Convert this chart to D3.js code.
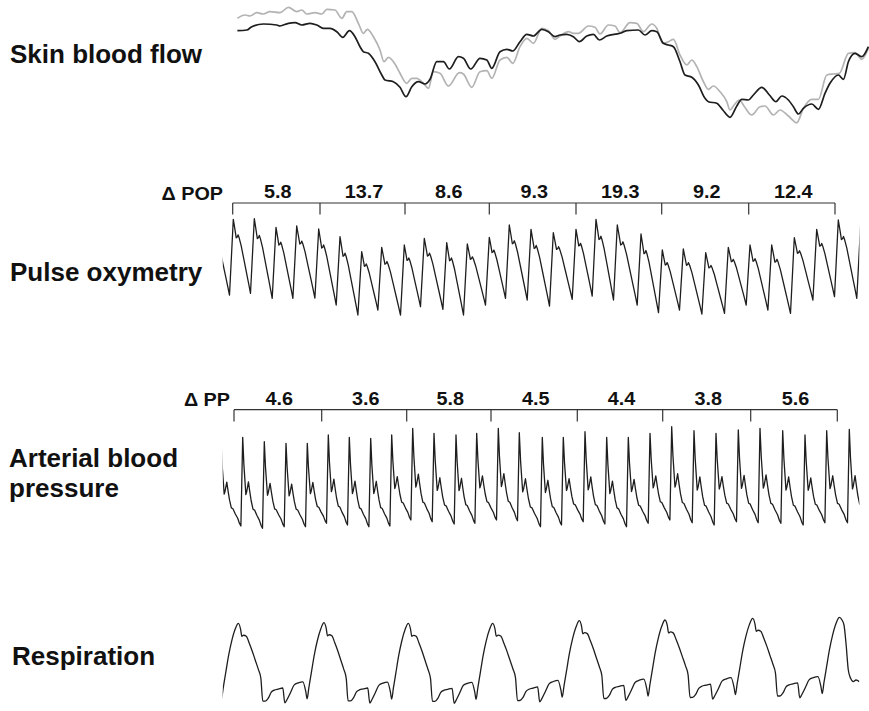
<!DOCTYPE html>
<html>
<head>
<meta charset="utf-8">
<script src="https://cdn.jsdelivr.net/npm/d3@7"></script>
<style>
body { margin: 0; background: #fff; }
svg { display: block; }
</style>
</head>
<body>
<svg width="869" height="711"></svg>
<script>
// time in s, values in arbitrary units

var skinBlack = [[0.77,99.3],[1.24,100],[1.49,103.3],[2.07,106],[2.74,105],[2.9,104],[3.32,106.7],[3.65,107.3],[3.99,105],[4.4,106.7],[4.74,105],[5.07,101.7],[5.4,101.7],[5.74,98.3],[6.04,92.7],[6.37,99.3],[6.65,93.3],[6.9,83.3],[7.07,78.3],[7.32,76.7],[7.65,68.3],[7.99,55],[8.15,50],[8.57,48.3],[8.9,42.7],[9.2,33.3],[9.49,43.3],[9.82,48.3],[10.15,46],[10.4,50.7],[10.74,68.3],[11.07,68.3],[11.37,61],[11.82,73.3],[12.07,71.7],[12.44,61],[12.9,71.7],[13.24,70],[13.49,61.7],[13.9,78.3],[14.24,80.7],[14.54,79],[14.9,88.3],[15.24,95.7],[15.57,94],[15.99,100.7],[16.32,98.3],[16.65,93.3],[16.9,95],[17.24,95.7],[17.57,93.3],[17.87,88.3],[18.24,94],[18.57,95.7],[18.87,90],[19.24,94],[19.9,96.7],[20.24,99.3],[20.82,100],[21.15,95],[21.49,99.3],[21.74,98.3],[22.07,86.7],[22.32,85],[22.57,83.3],[22.9,68.3],[23.15,55],[23.49,52.7],[23.82,45],[24.15,31.7],[24.32,28.3],[24.74,26.7],[25.04,20],[25.4,12.7],[25.74,24],[25.99,30.7],[26.32,30],[26.57,35],[26.99,42.7],[27.37,35],[27.7,28.3],[27.99,34],[28.32,30],[28.57,23.3],[28.82,16],[29.07,21.7],[29.49,26],[29.82,20.7],[30.15,36.7],[30.4,46.7],[30.82,55],[31.07,50.7],[31.32,68.3],[31.65,76.7],[31.99,73.3],[32.32,83.3]];

var skinGray = [[0.77,111.7],[1.15,115],[1.4,114],[1.74,117.3],[2.07,116],[2.4,118.3],[2.9,117.3],[3.32,122.7],[3.74,118.3],[3.99,120],[4.24,116],[4.65,117.3],[4.99,116],[5.24,120.7],[5.65,120],[5.99,111.7],[6.24,118.3],[6.49,118.3],[6.82,106.7],[7.07,96.7],[7.27,100.7],[7.57,93.3],[7.9,80],[8.1,68.3],[8.32,72.7],[8.65,66],[8.9,56.7],[9.24,46.7],[9.49,51.7],[9.74,51.7],[10.07,46.7],[10.32,41.7],[10.57,58.3],[10.9,56.7],[11.32,44],[11.87,57.3],[12.07,56],[12.49,42.7],[12.9,58.3],[13.24,59.3],[13.49,51.7],[13.9,70],[14.24,72.7],[14.54,66.7],[14.9,83.3],[15.24,91.7],[15.57,86.7],[15.99,101.7],[16.32,99.3],[16.65,90.7],[16.9,94],[17.32,98.3],[17.57,96.7],[17.82,96.7],[18.32,104],[18.65,102.7],[18.9,96],[19.32,105],[19.65,104],[19.9,97.3],[20.4,107.3],[20.74,106.7],[21.07,98.3],[21.49,106],[21.74,101.7],[22.04,86.7],[22.32,88.3],[22.57,90.7],[22.9,75],[23.24,65],[23.49,70],[23.74,63.3],[24.07,48.3],[24.32,40.7],[24.57,44],[24.9,38.3],[25.24,28.3],[25.4,20],[25.57,24],[25.87,30],[26.1,24],[26.49,15],[26.9,23.3],[27.15,24],[27.57,15],[27.9,20],[28.32,14],[28.74,7.3],[29.07,21.7],[29.49,30.7],[29.82,30.7],[30.24,55],[30.57,56],[30.87,56.7],[31.32,76.7],[31.65,77.3],[31.99,70.7],[32.32,81.7]];

// pulse oximetry: systolic peaks and the foot before each peak
var pulsePeakT = [-0.5,0.565,1.615,2.7,3.735,4.835,5.9,6.985,7.985,9.115,10.115,11.235,12.265,13.365,14.365,15.45,16.565,17.7,18.7,19.765,20.95,22.015,23.065,24.185,25.315,26.4,27.485,28.615,29.735,30.815,31.93];
var pulsePeakV = [95,100.7,101.3,92.7,94,91,83.3,68.3,72.7,75,81.7,77.3,76,82.7,95,90.7,87.3,90.7,100.7,95,86,70,71,67.3,72.7,75,75,82.3,90.7,100,95];
var pulseFootV = [25,25,26.7,21.7,21.7,22,15,5,10,5,13.3,10.7,5,15,21.7,20,14,20.7,24,20,15,7.3,10,6,6.7,15,10,6.7,20,23.3,21.7];
// one beat from peak to next foot: [fraction of time, fraction of drop]
var pulseShape = [[0.09,0.13],[0.17,0.25],[0.23,0.24],[0.28,0.21],[0.34,0.25],[0.46,0.36],[0.63,0.56],[0.8,0.76],[0.91,0.89]];
var pulseRise = 0.19;

// arterial pressure
var abpPeakT = [-0.05,1.035,2.115,3.2,4.265,5.315,6.365,7.435,8.485,9.535,10.6,11.7,12.735,13.815,14.865,16.015,17.065,18.15,19.235,20.315,21.4,22.485,23.6,24.7,25.815,26.9,28.035,29.15,30.235,31.365,32.45];
var abpPeakV = [90,92.7,88.3,86.7,86.7,95,92.7,91.7,95,101.7,96.7,95,96.7,101.7,97.3,92.7,92.7,98.3,92.7,92.7,96.7,103.3,99.3,96.7,100,101.7,99.3,95,99.3,100.7,95];
var abpFootV = [4,4,1.7,3.3,3.3,6.7,5,3.3,4,10,8.3,6,6.7,10,9.3,3.3,5,8.3,6,3.3,6.7,10,7.3,5,8.3,7.3,6.7,5,7.3,7.3,6];
var abpShape = [[0.06,0.3],[0.16,0.63],[0.2,0.6],[0.29,0.49],[0.36,0.6],[0.43,0.7],[0.52,0.79],[0.6,0.8],[0.72,0.86],[0.84,0.91],[0.93,0.97]];
var abpRise = 0.09;

// respiration: inspiratory peaks, cycle shape [fraction of cycle, drop below peak]
var respPeakT = [-3.47,0.815,5.1,9.315,13.535,17.865,22.15,26.535,30.865];
var respPeakV = [86.7,86.7,87.3,86.7,86.7,89.3,90,91.7,92.7];
var respShape = [[0,0],[0.027,6],[0.041,13],[0.062,12],[0.093,13],[0.128,20],[0.163,28],[0.198,37],[0.233,46],[0.263,55],[0.286,78],[0.315,78],[0.35,75],[0.385,69],[0.42,67],[0.467,66],[0.519,65],[0.543,80],[0.566,77],[0.607,70],[0.653,62],[0.7,60],[0.753,59],[0.788,69],[0.803,76],[0.823,65],[0.852,50],[0.887,32],[0.922,18],[0.963,6]];
var respTail = [[0.135,2.7],[0.235,7.7],[0.335,26],[0.45,52.7],[0.565,61],[0.7,64.3],[0.835,62.7],[1.0,64.3]];

var traceSpan = [0.035, 31.87];

var popTicks = [0.535,4.9,9.15,13.365,17.7,21.985,26.335,30.65];
var popValues = ["5.8","13.7","8.6","9.3","19.3","9.2","12.4"];
var ppTicks = [0.6,4.985,9.235,13.45,17.765,22.035,26.435,30.765];
var ppValues = ["4.6","3.6","5.8","4.5","4.4","3.8","5.6"];

var labels = [
    { text: ["Skin blood flow"], x: 10, y: 63 },
    { text: ["Pulse oxymetry"], x: 10, y: 281 },
    { text: ["Arterial blood", "pressure"], x: 9, y: 467 },
    { text: ["Respiration"], x: 12, y: 665 }
];


var svg = d3.select('svg');
var font = "'Liberation Sans', Arial, sans-serif";

var x = d3.scaleLinear().domain([0, 32]).range([222, 862]);
var ySkin = d3.scaleLinear().domain([0, 130]).range([130, 0]);
var yPulse = d3.scaleLinear().domain([0, 100]).range([320, 220]);
var yAbp = d3.scaleLinear().domain([0, 100]).range([530, 430]);
var yResp = d3.scaleLinear().domain([0, 100]).range([710, 610]);

svg.append('defs').append('clipPath').attr('id', 'span')
    .append('rect')
    .attr('x', x(traceSpan[0])).attr('y', 0)
    .attr('width', x(traceSpan[1]) - x(traceSpan[0])).attr('height', 711);

function beats(peakT, peakV, footV, rise, shape) {
    var pts = [];
    for (var i = 0; i < peakT.length; i++) {
        if (i > 0) pts.push([peakT[i] - rise, footV[i]]);
        pts.push([peakT[i], peakV[i]]);
        if (i < peakT.length - 1) {
            var t1 = peakT[i + 1] - rise, v1 = footV[i + 1];
            shape.forEach(function(s) {
                pts.push([peakT[i] + s[0] * (t1 - peakT[i]), peakV[i] + s[1] * (v1 - peakV[i])]);
            });
        }
    }
    return pts;
}

function breaths() {
    var pts = [];
    var n = respPeakT.length;
    for (var i = 0; i < n - 1; i++) {
        var dt = respPeakT[i + 1] - respPeakT[i], dv = respPeakV[i + 1] - respPeakV[i];
        respShape.forEach(function(s) {
            pts.push([respPeakT[i] + s[0] * dt, respPeakV[i] + s[0] * dv - s[1]]);
        });
    }
    pts.push([respPeakT[n - 1], respPeakV[n - 1]]);
    respTail.forEach(function(s) {
        pts.push([respPeakT[n - 1] + s[0], respPeakV[n - 1] - s[1]]);
    });
    return pts;
}

function trace(data, yScale, color, width, clip, curve) {
    var line = d3.line()
        .x(function(d) { return x(d[0]); })
        .y(function(d) { return yScale(d[1]); })
        .curve(curve || d3.curveLinear);
    var p = svg.append('path')
        .attr('d', line(data))
        .attr('fill', 'none')
        .attr('stroke', color)
        .attr('stroke-width', width)
        .attr('stroke-linejoin', 'round');
    if (clip) p.attr('clip-path', 'url(#span)');
    return p;
}

trace(skinGray, ySkin, '#b3b3b3', 1.7, false, d3.curveMonotoneX);
trace(skinBlack, ySkin, '#1e1e1e', 1.7, false, d3.curveMonotoneX);
trace(beats(pulsePeakT, pulsePeakV, pulseFootV, pulseRise, pulseShape), yPulse, '#1e1e1e', 1.3, true);
trace(beats(abpPeakT, abpPeakV, abpFootV, abpRise, abpShape), yAbp, '#1e1e1e', 1.3, true);
trace(breaths(), yResp, '#1e1e1e', 1.3, true, d3.curveMonotoneX);

function bracket(ticks, values, name, yLine, yTick, nameX, nameY, valueY) {
    var g = svg.append('g').attr('class', 'bracket');
    g.append('line')
        .attr('x1', x(ticks[0])).attr('x2', x(ticks[ticks.length - 1]))
        .attr('y1', yLine).attr('y2', yLine)
        .attr('stroke', '#333').attr('stroke-width', 1.2);
    g.selectAll('line.tick').data(ticks).enter().append('line')
        .attr('class', 'tick')
        .attr('x1', function(d) { return x(d); }).attr('x2', function(d) { return x(d); })
        .attr('y1', yLine).attr('y2', yTick)
        .attr('stroke', '#333').attr('stroke-width', 1.2);
    g.selectAll('text.val').data(values).enter().append('text')
        .attr('class', 'val')
        .attr('transform', function(d, i) {
            return 'translate(' + ((x(ticks[i]) + x(ticks[i + 1])) / 2 + 1.5) + ',' + valueY + ') scale(1.1,1)';
        })
        .attr('text-anchor', 'middle')
        .style('font-family', font).style('font-weight', 'bold').style('font-size', '18px')
        .attr('fill', '#111')
        .text(function(d) { return d; });
    g.append('text')
        .attr('transform', 'translate(' + nameX + ',' + nameY + ') scale(1.1,1)')
        .attr('text-anchor', 'end')
        .style('font-family', font).style('font-weight', 'bold').style('font-size', '18px')
        .attr('fill', '#111')
        .text(name);
}

bracket(popTicks, popValues, '\u0394 POP', 203, 214.5, 223, 200, 197.5);
bracket(ppTicks, ppValues, '\u0394 PP', 409.7, 421.5, 230, 405.5, 405);

labels.forEach(function(l) {
    var t = svg.append('text')
        .attr('x', l.x).attr('y', l.y)
        .style('font-family', font).style('font-weight', 'bold').style('font-size', '26px')
        .attr('fill', '#111');
    l.text.forEach(function(s, i) {
        t.append('tspan').attr('x', l.x).attr('dy', i === 0 ? 0 : 29.5).text(s);
    });
});
</script>
</body>
</html>
